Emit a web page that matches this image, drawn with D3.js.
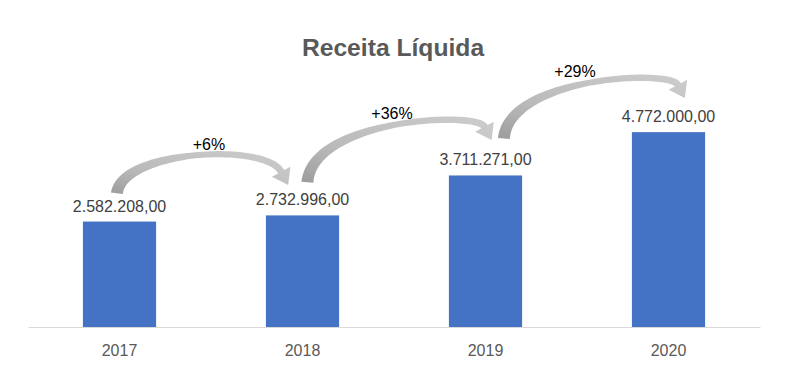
<!DOCTYPE html>
<html>
<head>
<meta charset="utf-8">
<script src="https://cdn.jsdelivr.net/npm/d3@7"></script>
<style>
  html, body { margin: 0; padding: 0; background: #ffffff; }
  svg { display: block; }
  text { font-family: "Liberation Sans", Arial, sans-serif; }
</style>
</head>
<body>
<svg id="chart" width="798" height="380"></svg>
<script>
// ---- data ----
const categories = ["2017", "2018", "2019", "2020"];
const values = [2582208.00, 2732996.00, 3711271.00, 4772000.00];
const growthLabels = ["+6%", "+36%", "+29%"];
const chartTitle = "Receita Líquida";
const yMax = 6000000;

// ---- drawing ----
const W = 798, H = 380;
const svg = d3.select("#chart");
svg.append("rect").attr("width", W).attr("height", H).attr("fill", "#ffffff");

const x = d3.scaleBand().domain(categories).range([28, 760]).paddingInner(0.6).paddingOuter(0.3);
const y = d3.scaleLinear().domain([0, yMax]).range([327, 82]);

const locale = d3.formatLocale({ decimal: ",", thousands: ".", grouping: [3], currency: ["", ""] });
const fmt = locale.format(",.2f");

// title
svg.append("text")
  .attr("x", 393).attr("y", 56)
  .attr("text-anchor", "middle")
  .attr("font-size", "24.67px").attr("font-weight", "bold")
  .attr("fill", "#595959")
  .text(chartTitle);

// bars
svg.append("g").selectAll("rect").data(values).join("rect")
  .attr("x", (d, i) => x(categories[i]))
  .attr("y", d => y(d))
  .attr("width", x.bandwidth())
  .attr("height", d => y(0) - y(d))
  .attr("fill", "#4472C4");

// axis
const axis = svg.append("g").attr("transform", `translate(0,${y(0)})`)
  .call(d3.axisBottom(x).tickSize(0).tickSizeOuter(0).tickPadding(18));
axis.select(".domain").attr("stroke", "#d9d9d9");
axis.selectAll("text")
  .attr("font-size", "16px")
  .attr("font-family", "\"Liberation Sans\", Arial, sans-serif")
  .attr("fill", "#595959");

// value labels
svg.append("g").selectAll("text").data(values).join("text")
  .attr("x", (d, i) => x(categories[i]) + x.bandwidth() / 2)
  .attr("y", d => y(d) - 10)
  .attr("text-anchor", "middle")
  .attr("font-size", "16px")
  .attr("fill", "#404040")
  .text(d => fmt(d));

// growth arrows (annotation layout tweaks)
const arrowLayout = [
  { tailDx: -2.6, tailLift: 28.3, tipDx: -14.3, tipLift: 30.4, peakRise: 19.5 },
  { tailDx: 4.9,  tailLift: 33.1, tipDx: 6.1,   tipLift: 35.5, peakRise: 5.8 },
  { tailDx: 18.4, tailLift: 37.0, tipDx: 16.4,  tipLift: 34.1, peakRise: 5.8 }
];

const defs = svg.append("defs");
const grad = defs.append("linearGradient").attr("id", "arrowGrad")
  .attr("x1", "0").attr("y1", "1").attr("x2", "1").attr("y2", "0");
grad.append("stop").attr("offset", "0%").attr("stop-color", "#9c9c9c");
grad.append("stop").attr("offset", "35%").attr("stop-color", "#bababa");
grad.append("stop").attr("offset", "100%").attr("stop-color", "#cdcdcd");

const cx = c => x(c) + x.bandwidth() / 2;
const headAngle = 62 * Math.PI / 180;
const hc = Math.cos(headAngle), hs = Math.sin(headAngle);
const headLen = 15, headHalf = 10.5;

function bez(p0, p1, p2, p3, t) {
  const u = 1 - t;
  return [
    u*u*u*p0[0] + 3*u*u*t*p1[0] + 3*u*t*t*p2[0] + t*t*t*p3[0],
    u*u*u*p0[1] + 3*u*u*t*p1[1] + 3*u*t*t*p2[1] + t*t*t*p3[1]
  ];
}
function bezD(p0, p1, p2, p3, t) {
  const u = 1 - t;
  return [
    3*u*u*(p1[0]-p0[0]) + 6*u*t*(p2[0]-p1[0]) + 3*t*t*(p3[0]-p2[0]),
    3*u*u*(p1[1]-p0[1]) + 6*u*t*(p2[1]-p1[1]) + 3*t*t*(p3[1]-p2[1])
  ];
}

const arrowG = svg.append("g");
growthLabels.forEach((lbl, i) => {
  const L = arrowLayout[i];
  const T = [cx(categories[i]) + L.tailDx, y(values[i]) - L.tailLift];
  const E = [cx(categories[i + 1]) + L.tipDx, y(values[i + 1]) - L.tipLift];
  const B = [E[0] - headLen * hc, E[1] - headLen * hs];
  const peakY = Math.min(T[1], B[1]) - L.peakRise;
  const P1 = [T[0] + 5, peakY - 2];
  const k = (B[1] - peakY + 10) / hs;
  const P2 = [B[0] - k * hc, B[1] - k * hs];
  const N = 60;
  const left = [], right = [];
  for (let j = 0; j <= N; j++) {
    const t = j / N;
    const p = bez(T, P1, P2, B, t);
    const d = bezD(T, P1, P2, B, t);
    const len = Math.hypot(d[0], d[1]) || 1;
    const n = [-d[1] / len, d[0] / len];
    const w = t < 0.5 ? 12 - 12 * t : 6 + 1 * (t - 0.5) * 2;
    left.push([p[0] + n[0] * w / 2, p[1] + n[1] * w / 2]);
    right.push([p[0] - n[0] * w / 2, p[1] - n[1] * w / 2]);
  }
  const dEnd = bezD(T, P1, P2, B, 1);
  const le = Math.hypot(dEnd[0], dEnd[1]);
  const nE = [-dEnd[1] / le, dEnd[0] / le];
  const pts = left.concat([
    [B[0] + nE[0] * headHalf, B[1] + nE[1] * headHalf],
    E,
    [B[0] - nE[0] * headHalf, B[1] - nE[1] * headHalf]
  ]).concat(right.reverse());
  arrowG.append("path")
    .attr("d", "M" + pts.map(p => p[0].toFixed(2) + "," + p[1].toFixed(2)).join("L") + "Z")
    .attr("fill", "url(#arrowGrad)");

  const midX = (cx(categories[i]) + cx(categories[i + 1])) / 2;
  arrowG.append("text")
    .attr("x", midX - 2)
    .attr("y", peakY - 2)
    .attr("text-anchor", "middle")
    .attr("font-size", "16px")
    .attr("fill", "#000000")
    .text(lbl);
});
</script>
</body>
</html>
